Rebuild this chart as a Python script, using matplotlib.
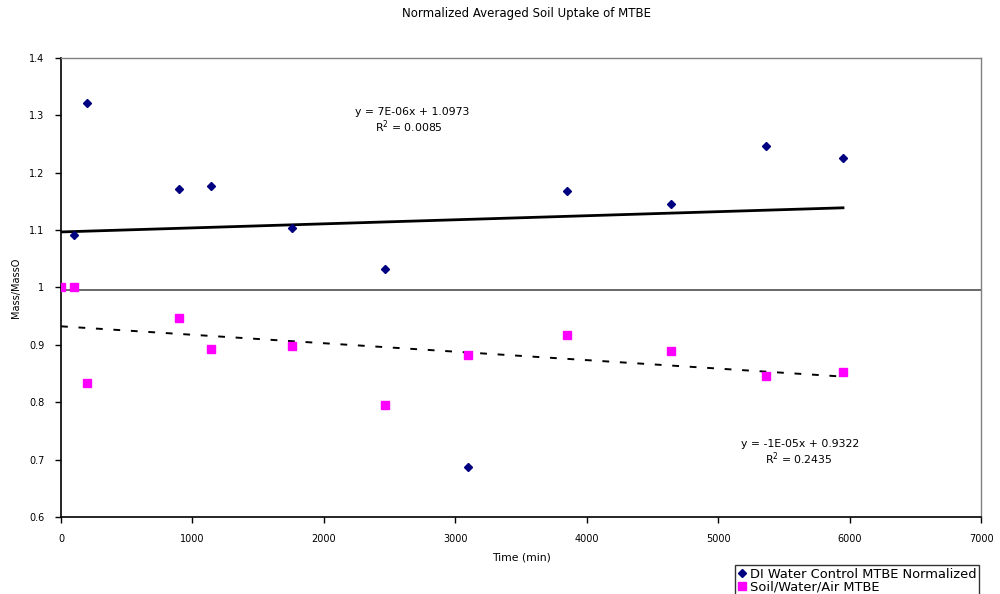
import matplotlib
matplotlib.use('Agg')
import matplotlib.pyplot as plt
import numpy as np

# time (min) and normalized mass for the two series
time_min = [0, 100, 200, 900, 1140, 1760, 2465, 3100, 3850, 4640, 5365, 5950]
di_water = [1.0, 1.091, 1.321, 1.172, 1.177, 1.103, 1.033, 0.687, 1.168,
            1.145, 1.247, 1.226]
soil_air = [1.0, 1.0, 0.833, 0.946, 0.893, 0.898, 0.795, 0.883, 0.918,
            0.889, 0.846, 0.853]

di_label = 'DI Water Control MTBE Normalized'
soil_label = 'Soil/Water/Air MTBE'
di_eq = ['y = 7E-06x + 1.0973', 'R$^{2}$ = 0.0085']
soil_eq = ['y = -1E-05x + 0.9322', 'R$^{2}$ = 0.2435']

plt.rcParams['font.family'] = ['DejaVu Sans']

fig = plt.figure(figsize=(10, 5.94), dpi=100)
ax = fig.add_axes([0.061, 0.1296, 0.92, 0.7728])

x = np.array(time_min)
ax.plot(x, di_water, linestyle='none', marker='D', markersize=4.2,
        color='#000080', label=di_label, zorder=3)
ax.plot(x, soil_air, linestyle='none', marker='s', markersize=5.5,
        color='#FF00FF', label=soil_label, zorder=4)

# linear trend lines, fitted from the data
xs = np.array([x.min(), x.max()])
k1, b1 = np.polyfit(x, di_water, 1)
k2, b2 = np.polyfit(x, soil_air, 1)
ax.plot(xs, k1 * xs + b1, color='black', lw=2.0, zorder=2)
ax.plot(xs, k2 * xs + b2, color='black', lw=1.4,
        linestyle=(0, (3.5, 5.5)), zorder=2)

# reference line near 1
ax.axhline(0.995, color='#404040', lw=1.1, zorder=1)

ax.text(2670, 1.305, di_eq[0], ha='center', va='center', fontsize=7.8)
ax.text(2650, 1.281, di_eq[1], ha='center', va='center', fontsize=7.8)
ax.text(5620, 0.727, soil_eq[0], ha='center', va='center', fontsize=7.8)
ax.text(5610, 0.701, soil_eq[1], ha='center', va='center', fontsize=7.8)

ax.set_xlim(0, 7000)
ax.set_ylim(0.6, 1.4)
ax.set_xticks(np.arange(0, 7001, 1000))
ax.set_yticks(np.arange(0.6, 1.41, 0.1))
ax.set_yticklabels(['0.6', '0.7', '0.8', '0.9', '1', '1.1', '1.2', '1.3', '1.4'])
ax.tick_params(direction='out', length=4, width=1, labelsize=7,
               colors='black', pad=8)

for side in ['left', 'bottom']:
    ax.spines[side].set_color('black')
    ax.spines[side].set_linewidth(1.2)
for side in ['top', 'right']:
    ax.spines[side].set_color('#808080')
    ax.spines[side].set_linewidth(1.0)

ax.set_xlabel('Time (min)', fontsize=7.8, labelpad=6)
ax.set_ylabel('Mass/MassO', fontsize=7, labelpad=6)
fig.text(0.526, 0.978, 'Normalized Averaged Soil Uptake of MTBE',
         ha='center', va='center', fontsize=8.5)

leg = fig.legend(loc='upper left', bbox_to_anchor=(0.735, 0.049),
                 fontsize=9.4, frameon=True, fancybox=False, handlelength=0.7,
                 handletextpad=0.25, borderpad=0.2, labelspacing=0.02,
                 borderaxespad=0)
leg.get_frame().set_edgecolor('black')
leg.get_frame().set_linewidth(1.0)

fig.savefig('out.png', dpi=100)
